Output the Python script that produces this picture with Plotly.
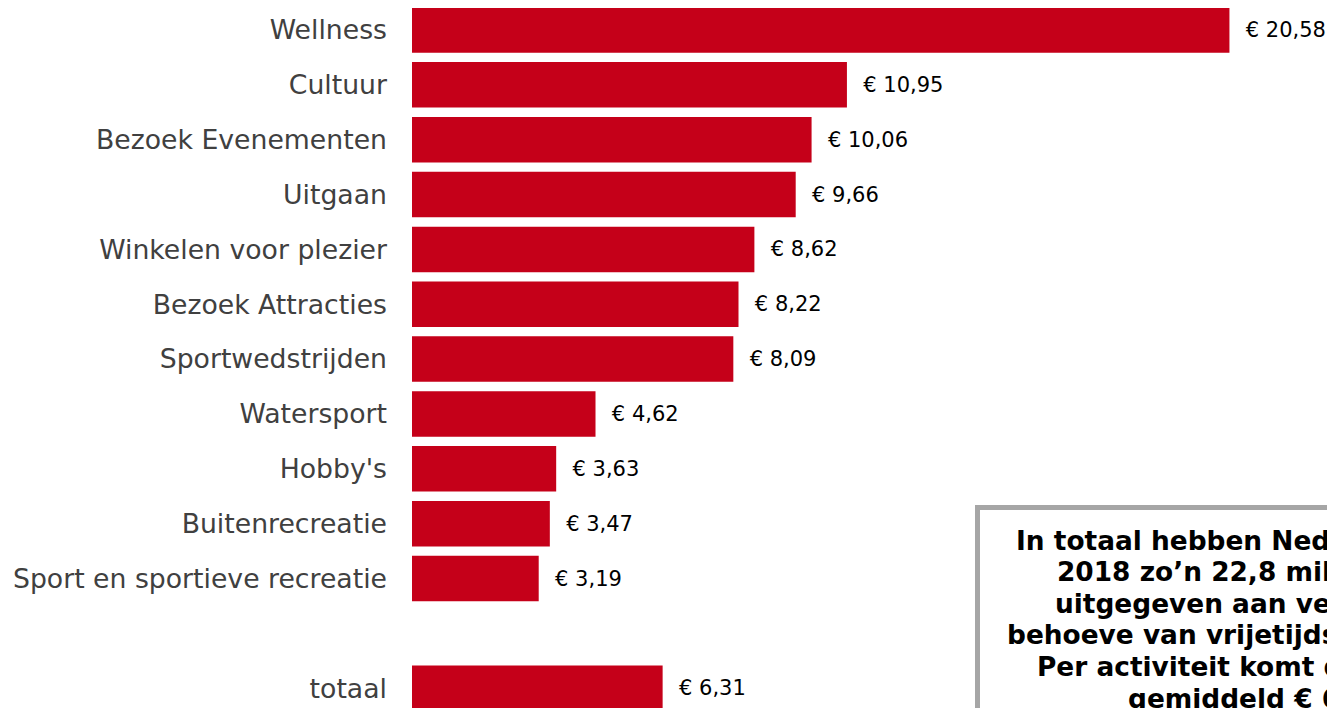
import plotly.graph_objects as go

categories = ["Wellness", "Cultuur", "Bezoek Evenementen", "Uitgaan",
              "Winkelen voor plezier", "Bezoek Attracties", "Sportwedstrijden",
              "Watersport", "Hobby's", "Buitenrecreatie",
              "Sport en sportieve recreatie", " ", "totaal"]
values = [20.58, 10.95, 10.06, 9.66, 8.62, 8.22, 8.09, 4.62, 3.63, 3.47, 3.19, None, 6.31]

box_lines = [
    "In totaal hebben Nederlanders in",
    "2018 zo\u2019n 22,8 miljard euro",
    "uitgegeven aan vervoer ten",
    "behoeve van vrijetijdsactiviteiten.",
    "Per activiteit komt dit neer op",
    "gemiddeld \u20ac 6,31.",
]

BAR_COLOR = "#C50019"
FONT = "DejaVu Sans"

OFF = 8  # page body margin
PAGE_W, PAGE_H = 1335, 708
W, H = PAGE_W - OFF, PAGE_H - OFF
PLOT_LEFT = 412  # page px
ML, MT = PLOT_LEFT - OFF, 0
PW, PH = W - ML, H - MT

PX_PER_UNIT = 39.72
PX_PER_ROW = 54.85
FIRST_ROW_CENTER = 30.0  # page px

labels = [None if v is None else "\u00a0\u00a0\u20ac " + f"{v:.2f}".replace(".", ",") for v in values]

fig = go.Figure(go.Bar(
    x=values, y=categories, orientation="h",
    marker=dict(color=BAR_COLOR, line=dict(width=0)),
    width=0.83,
    text=labels, textposition="outside", constraintext="none",
    textfont=dict(family=FONT, size=21, color="#000000"),
    cliponaxis=False, hoverinfo="skip",
))

x_max = PW / PX_PER_UNIT
y_top = (OFF + MT - FIRST_ROW_CENTER) / PX_PER_ROW
y_bottom = y_top + PH / PX_PER_ROW

def px_to_paper_x(px):
    return (px - PLOT_LEFT) / PW

def px_to_paper_y(py):
    return 1 - (py - OFF - MT) / PH

# text box border
fig.add_shape(type="rect", xref="paper", yref="paper",
              x0=px_to_paper_x(977.5), x1=px_to_paper_x(1560),
              y0=px_to_paper_y(507.5), y1=px_to_paper_y(760),
              line=dict(color="#A6A6A6", width=5), fillcolor="white", layer="above")

for i, line in enumerate(box_lines):
    fig.add_annotation(xref="paper", yref="paper",
                       x=px_to_paper_x(1262), y=px_to_paper_y(540 + i * 31.6),
                       xanchor="center", yanchor="middle", showarrow=False,
                       text="<b>" + line + "</b>",
                       font=dict(family=FONT, size=26.4, color="#000000"))

fig.update_layout(
    width=W, height=H,
    margin=dict(l=ML, r=0, t=MT, b=0, pad=0),
    plot_bgcolor="white", paper_bgcolor="white",
    showlegend=False,
    xaxis=dict(range=[0, x_max], visible=False, showgrid=False, zeroline=False, fixedrange=True),
    yaxis=dict(type="category", categoryorder="array", categoryarray=categories,
               range=[y_bottom, y_top], autorange=False,
               showgrid=False, zeroline=False, showline=False, ticks="",
               ticklabelstandoff=24,
               tickfont=dict(family=FONT, size=26.7, color="#404040")),
)

fig.write_html("out.html")
